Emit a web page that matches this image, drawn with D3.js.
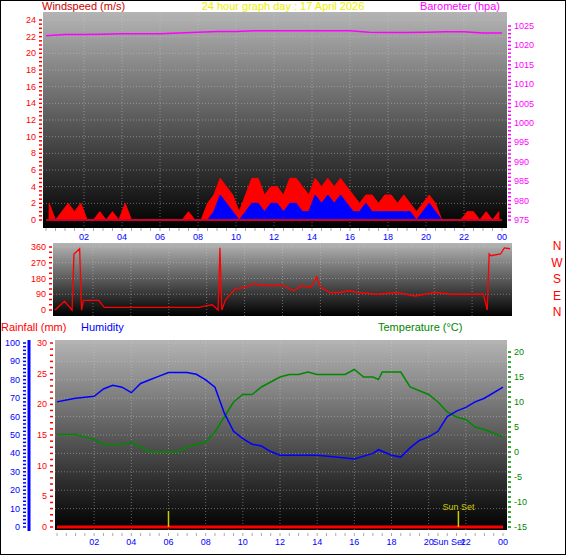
<!DOCTYPE html><html><head><meta charset="utf-8">
<script src="https://cdn.jsdelivr.net/npm/d3@7"></script>
<style>body{margin:0;background:#fff}svg{display:block;font-family:"Liberation Sans",Arial,sans-serif}</style></head><body>
<svg id="c" width="566" height="555"></svg>
<script>
const title="24 hour graph day : 17 April 2026";
const hourTicks=["02","04","06","08","10","12","14","16","18","20","22","00"];
// wind speed, 20-min samples
const gust=[2,0,1,2,1,2,0,0,1,0,1,0,2,0,0,0,0,0,0,0,0,0,1,0,0,2,3,5,4,3,1,3,5,5,3,4,4,3,5,5,4,3,5,4,5,4,5,4,3,2,3,3,2,3,3,2,3,2,1,2,3,2,0,0,0,0,1,1,0,1,0,1];
const avgWind=[0,0,0,0,0,0,0,0,0,0,0,0,0,0,0,0,0,0,0,0,0,0,0,0,0,0,1,3,2,1,0,1,2,2,1,2,2,1,2,2,1,1,3,2,3,2,3,2,1,1,2,1,1,1,1,1,1,1,0,1,2,1,0,0,0,0,0,0,0,0,0,0];
const baroHours=[0,1,2,3,4,5,6,7,8,9,10,11,12,13,14,15,16,17,18,19,20,21,22,23,24];
const baro=[1022.5,1022.8,1022.8,1022.9,1023,1023,1023,1023.2,1023.4,1023.6,1023.6,1023.8,1023.8,1023.8,1023.8,1023.8,1023.8,1023.4,1023.3,1023.3,1023.4,1023.5,1023.5,1023.2,1023.2];
const dirHours=[0,0.5,0.9,1.0,1.3,1.4,1.5,2.3,2.6,4,6,7.6,8,8.3,8.6,8.7,8.8,9,9.5,10,10.5,11,12,12.6,13,13.5,13.8,14,14.5,15,15.5,16,17,18,19,20,21,22,22.6,22.8,22.9,23,23.5,23.7,24];
const dirVals=[0,50,0,320,350,0,55,55,15,15,15,15,25,30,0,355,0,60,120,130,150,140,140,110,140,130,190,130,100,100,110,100,90,100,80,100,90,90,90,0,320,310,320,355,350];
const humHours=[0,0.5,1,2,2.5,3,3.5,4,4.5,5,5.5,6,7,7.5,8,8.5,9,9.5,10,10.5,11,11.5,12,13,14,15,16,17,17.3,18,18.5,19,19.5,20,20.5,21,21.5,22,22.5,23,24];
const hum=[68,69,70,71,75,77,76,73,78,80,82,84,84,83,80,76,62,52,48,45,44,41,39,39,39,38,37,40,42,39,38,43,47,49,52,60,63,65,68,70,76];
const tempHours=[0,1,2,2.5,3.5,4,4.5,5,6,6.5,7,8,8.5,9,9.5,10,10.5,11,11.5,12,12.5,13,13.5,14,15,15.5,16,16.5,17,17.3,17.5,18,18.5,19,20,20.5,21,21.5,22,22.5,23,24];
const temp=[3.5,3.5,2.5,1.5,1.5,2,1,0,0,0,1,2,4,7,10,11.5,11.5,13,14,15,15.5,15.5,16,15.5,15.5,15.5,16.5,15,15,14.5,16,16,16,13,11.5,10,8,7,6.5,5,4.5,3];
const sunrise=6.0, sunset=21.6;

const svg=d3.select("#c");
svg.append("rect").attr("x",0.5).attr("y",0.5).attr("width",565).attr("height",554).attr("fill","#fff").attr("stroke","#000");
const defs=svg.append("defs");
const g=defs.append("linearGradient").attr("id","bg").attr("x1",0).attr("y1",0).attr("x2",0).attr("y2",1);
g.append("stop").attr("offset",0).attr("stop-color","#b4b4b4");
g.append("stop").attr("offset",1).attr("stop-color","#000");

function panel(x0,x1,y0,y1){
  svg.append("rect").attr("x",x0).attr("y",y0).attr("width",x1-x0).attr("height",y1-y0).attr("fill","url(#bg)");
}
function vgrid(x,y0,y1){
  const gg=svg.append("g");
  d3.range(2,24,2).forEach(h=>gg.append("line").attr("x1",x(h)).attr("x2",x(h)).attr("y1",y0).attr("y2",y1).attr("stroke","#ccc").attr("stroke-opacity",0.45).attr("stroke-dasharray","1,2"));
}
function hgrid(ys,x0,x1){
  ys.forEach(v=>svg.append("line").attr("x1",x0).attr("x2",x1).attr("y1",v).attr("y2",v).attr("stroke","#ccc").attr("stroke-opacity",0.45).attr("stroke-dasharray","1,2"));
}
function ticksLeft(scale,vals,x,color,minorStep){
  const gg=svg.append("g").attr("font-size",9).attr("fill",color);
  const [a,b]=scale.domain();
  for(let v=a;v<=b+1e-9;v+=minorStep) gg.append("line").attr("x1",x-4).attr("x2",x-1).attr("y1",scale(v)).attr("y2",scale(v)).attr("stroke",color).attr("stroke-width",1.5);
  vals.forEach(v=>gg.append("text").attr("x",x-7).attr("y",scale(v)+3).attr("text-anchor","end").text(v));
}
function ticksRight(scale,vals,x,color,minorStep){
  const gg=svg.append("g").attr("font-size",9).attr("fill",color);
  const [a,b]=scale.domain();
  for(let v=a;v<=b+1e-9;v+=minorStep) gg.append("line").attr("x1",x+1).attr("x2",x+4).attr("y1",scale(v)).attr("y2",scale(v)).attr("stroke",color).attr("stroke-width",1.5);
  vals.forEach(v=>gg.append("text").attr("x",x+7).attr("y",scale(v)+3).text(v));
}
function xticks(x,y,color){
  const gg=svg.append("g").attr("font-size",9).attr("fill",color);
  hourTicks.forEach((t,i)=>{const h=(i+1)*2;
    gg.append("text").attr("x",x(h)).attr("y",y).attr("text-anchor","middle").text(t);});
  for(let h=0;h<=24;h+=0.5) gg.append("line").attr("x1",x(h)).attr("x2",x(h)).attr("y1",y-12).attr("y2",y-9).attr("stroke","#aaa");
}

// ---- Panel 1
const x1=d3.scaleLinear().domain([0,24]).range([46,502]);
const yW=d3.scaleLinear().domain([0,24]).range([220,20]);
const yB=d3.scaleLinear().domain([975,1025]).range([220,26]);
panel(43,507,12,228);
vgrid(x1,12,228);
hgrid(d3.range(2,25,2).map(yW),43,507);
const areaW=(arr)=>d3.area().x((d,i)=>x1(i/3+1/6)).y0(yW(0)).y1(d=>yW(d)).curve(d3.curveLinear)(arr);
svg.append("path").attr("d",areaW(gust)).attr("fill","#f00").attr("stroke","#f00");
svg.append("path").attr("d",areaW(avgWind)).attr("fill","#00f").attr("stroke","#00f");
svg.append("line").attr("x1",x1(0)).attr("x2",x1(24)).attr("y1",yW(0)).attr("y2",yW(0)).attr("stroke","#f00").attr("stroke-width",1.5);
svg.append("path").attr("d",d3.line().x((d,i)=>x1(baroHours[i])).y(d=>yB(d))(baro)).attr("fill","none").attr("stroke","#f0f").attr("stroke-width",1.5);
ticksLeft(yW,d3.range(0,25,2),43,"#f00",0.5);
ticksRight(yB,d3.range(975,1026,5),507,"#f0f",1);
xticks(x1,240,"#00f");
svg.append("text").attr("x",42).attr("y",10).attr("font-size",11).attr("fill","#c00").text("Windspeed (m/s)");
svg.append("text").attr("x",283).attr("y",10).attr("font-size",11).attr("fill","#ee0").attr("text-anchor","middle").text(title);
svg.append("text").attr("x",500).attr("y",10).attr("font-size",11).attr("fill","#f0f").attr("text-anchor","end").text("Barometer (hpa)");

// ---- Panel 2
const x2=d3.scaleLinear().domain([0,24]).range([55,510]);
const yD=d3.scaleLinear().domain([0,360]).range([310,247]);
panel(53,512,243,316);
vgrid(x2,243,316);
hgrid([90,180,270,360].map(yD),53,512);
svg.append("path").attr("d",d3.line().x((d,i)=>x2(dirHours[i])).y(d=>yD(d))(dirVals)).attr("fill","none").attr("stroke","#f00").attr("stroke-width",1.3);
ticksLeft(yD,[0,90,180,270,360],53,"#f00",30);
["N","W","S","E","N"].forEach((t,i)=>svg.append("text").attr("x",557).attr("y",250+i*16.5).attr("font-size",12).attr("fill","#f00").attr("text-anchor","middle").text(t));

// ---- Panel 3
const x3=d3.scaleLinear().domain([0,24]).range([57,503]);
const yR=d3.scaleLinear().domain([0,30]).range([527,343]);
const yH=d3.scaleLinear().domain([0,100]).range([527,343]);
const yT=d3.scaleLinear().domain([-15,20]).range([527,352]);
panel(55,507,340,530);
vgrid(x3,340,530);
hgrid(d3.range(10,101,10).map(yH),55,507);
svg.append("path").attr("d",d3.line().x((d,i)=>x3(tempHours[i])).y(d=>yT(d))(temp)).attr("fill","none").attr("stroke","#080").attr("stroke-width",1.5);
svg.append("path").attr("d",d3.line().x((d,i)=>x3(humHours[i])).y(d=>yH(d))(hum)).attr("fill","none").attr("stroke","#00f").attr("stroke-width",1.5);
svg.append("line").attr("x1",x3(0)).attr("x2",x3(24)).attr("y1",yR(0)).attr("y2",yR(0)).attr("stroke","#f00").attr("stroke-width",3);
[sunrise,sunset].forEach(h=>svg.append("line").attr("x1",x3(h)).attr("x2",x3(h)).attr("y1",yR(0)).attr("y2",511).attr("stroke","#cc0").attr("stroke-width",1.5));
svg.append("text").attr("x",x3(sunset)).attr("y",510).attr("font-size",9).attr("fill","#cc0").attr("text-anchor","middle").text("Sun Set");
ticksLeft(yR,[0,5,10,15,20,25,30],54,"#f00",1);
ticksRight(yT,[-15,-10,-5,0,5,10,15,20],507,"#080",1);
svg.append("line").attr("x1",29).attr("x2",29).attr("y1",340).attr("y2",531).attr("stroke","#00f").attr("stroke-width",3);
ticksLeft(yH,d3.range(0,101,10),27,"#00f",2);
xticks(x3,545,"#00f");
svg.append("text").attr("x",x3(sunset)-10).attr("y",545).attr("font-size",9).attr("fill","#00f").attr("text-anchor","middle").text("Sun Set");
svg.append("text").attr("x",1).attr("y",331).attr("font-size",11).attr("fill","#f00").text("Rainfall (mm)");
svg.append("text").attr("x",81).attr("y",331).attr("font-size",11).attr("fill","#00f").text("Humidity");
svg.append("text").attr("x",378).attr("y",331).attr("font-size",11).attr("fill","#080").text("Temperature (°C)");
</script></body></html>
